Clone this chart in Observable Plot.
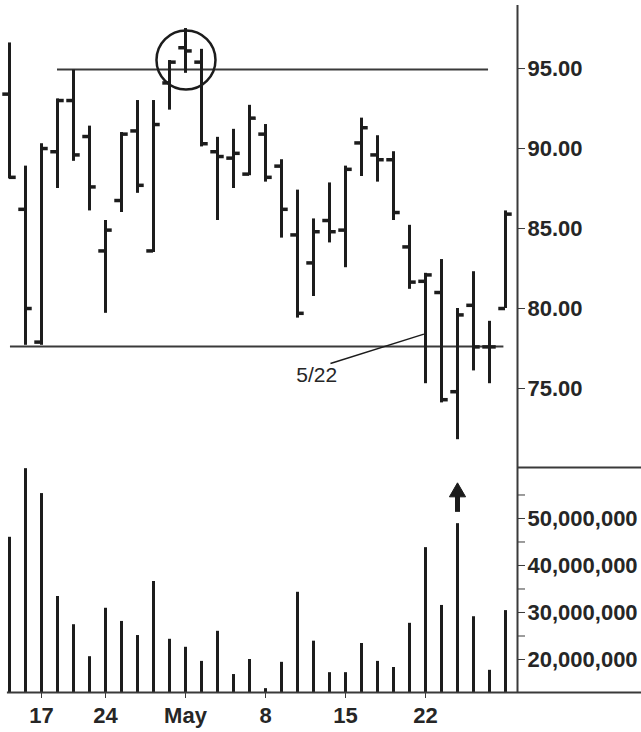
<!DOCTYPE html>
<html>
<head>
<meta charset="utf-8">
<script src="https://cdn.jsdelivr.net/npm/d3@7"></script>
<script src="https://cdn.jsdelivr.net/npm/@observablehq/plot@0.6"></script>
<style>
  html, body { margin: 0; padding: 0; background: #fff; }
  #chart svg { display: block; }
</style>
</head>
<body>
<div id="chart"></div>
<script>
// ---- Data ----
const dates = ["4/13","4/14","4/17","4/18","4/19","4/20","4/24","4/25","4/26","4/27","4/28",
  "5/1","5/2","5/3","5/4","5/5","5/8","5/9","5/10","5/11","5/12","5/15","5/16","5/17","5/18","5/19",
  "5/22","5/23","5/24","5/25","5/26","5/30"];
const open  = [93.4,86.2,77.9,89.8,93.0,90.75,83.6,86.75,91.1,83.6,94.1,96.3,95.4,89.8,89.4,88.4,90.9,88.9,84.6,82.85,85.5,84.9,90.35,89.6,89.3,83.85,81.7,81.0,74.8,80.2,77.6,80.0];
const high  = [96.6,88.9,90.3,93.1,94.9,91.4,85.5,91.0,93.0,93.0,95.5,97.5,96.2,90.7,91.2,92.7,91.5,89.3,87.4,85.6,87.85,88.9,91.9,90.8,89.8,85.2,82.2,83.06,80.0,82.3,79.2,86.1];
const low   = [88.1,77.7,77.7,87.5,89.2,86.1,79.7,86.0,87.2,83.5,92.4,94.7,90.1,85.5,87.5,88.3,87.9,84.4,79.4,80.75,84.1,82.55,88.25,87.9,85.5,81.2,75.3,74.1,71.8,76.1,75.3,80.0];
const close = [88.2,80.0,90.0,93.0,89.6,87.6,84.9,90.9,87.7,91.5,95.4,96.1,90.3,89.5,89.7,91.9,88.2,86.2,79.7,84.8,84.8,88.7,91.3,89.3,86.0,81.65,82.1,74.3,79.6,77.6,77.6,85.9];
const volumeM = [46.0,60.6,55.3,33.4,27.4,20.6,30.9,28.1,25.1,36.6,24.3,22.6,19.6,26.0,16.8,20.0,13.8,19.4,34.3,23.9,17.2,17.2,23.4,19.6,18.3,27.7,43.8,31.5,48.9,29.1,17.7,30.4];

const tickDates  = ["4/17","4/24","5/1","5/8","5/15","5/22"];
const tickLabels = ["17","24","May","8","15","22"];
const priceTicks = [75, 80, 85, 90, 95];
const volumeTicks = [20, 25, 30, 35, 40, 45, 50, 55];
const volumeLabelled = [20, 30, 40, 50];

// annotations (data units: x = trading-day index, y = price / volume in millions)
const resistance = [{from: 3, to: 29.94, price: 94.94}];
const support    = [{from: 0.06, to: 30.9, price: 77.62}];
const topCircle  = [{x: 11.03, price: 95.53}];
const leader     = [{x1: 20.06, p1: 76.56, x2: 25.9, p2: 78.4}];
const leaderText = [{x: 19.2, price: 75.8, text: "5/22"}];
const volArrow   = [{x: 28, shaftFrom: 51.3, shaftTo: 55.0, head: 55.6}];

// ---- Layout ----
const W = 641, plotRight = 124;
const xDomain = [-0.5625, 31.75];
const priceDomain = [70.125, 98.94];
const volDomain = [12.98, 61.06];
const ink = "#1c1c1c", lineInk = "#3a3a3a", textInk = "#262626";
const font = "'Liberation Sans', Arial, sans-serif";
const narrowFont = "'Liberation Sans Narrow', 'Arial Narrow', 'Liberation Sans', sans-serif";
const pxPerDay = (W - plotRight) / (xDomain[1] - xDomain[0]);
const xFar = xDomain[1] + plotRight / pxPerDay;

const bars = dates.map((d, i) => ({date: d, i, open: open[i], high: high[i], low: low[i], close: close[i]}));
const vols = dates.map((d, i) => ({date: d, i, v: volumeM[i]}));
const tickIdx = tickDates.map(d => dates.indexOf(d));
const labelOf = new Map(tickIdx.map((k, j) => [k, tickLabels[j]]));
const tickLen = 0.42;

const pricePlot = Plot.plot({
  width: W, height: 466,
  marginTop: 5, marginBottom: 0, marginLeft: 0, marginRight: plotRight,
  style: {fontFamily: font, background: "#fff", overflow: "visible"},
  x: {domain: xDomain, axis: null},
  y: {domain: priceDomain, axis: null},
  marks: [
    Plot.ruleY(resistance, {y: "price", x1: "from", x2: "to", stroke: lineInk, strokeWidth: 2}),
    Plot.ruleY(support, {y: "price", x1: "from", x2: "to", stroke: lineInk, strokeWidth: 2}),
    Plot.ruleX(bars, {x: "i", y1: "low", y2: "high", stroke: ink, strokeWidth: 3}),
    Plot.ruleY(bars, {y: "open", x1: d => d.i - tickLen, x2: "i", stroke: ink, strokeWidth: 3.5}),
    Plot.ruleY(bars, {y: "close", x1: "i", x2: d => d.i + tickLen, stroke: ink, strokeWidth: 3.5}),
    Plot.dot(topCircle, {x: "x", y: "price", r: 29.5, stroke: ink, strokeWidth: 2.5, fill: "none"}),
    Plot.link(leader, {x1: "x1", y1: "p1", x2: "x2", y2: "p2", stroke: ink, strokeWidth: 1.5}),
    Plot.text(leaderText, {x: "x", y: "price", text: "text", fontSize: 21, fill: textInk, fontFamily: narrowFont}),
    Plot.ruleX([xDomain[1]], {stroke: lineInk, strokeWidth: 2}),
    Plot.axisY({anchor: "right", ticks: priceTicks, tickFormat: d3.format(".2f"), tickSize: 7, tickPadding: 3,
      fontSize: 22, fontWeight: "bold", fill: textInk, stroke: lineInk, label: null})
  ]
});

const volumePlot = Plot.plot({
  width: W, height: 266,
  marginTop: 0, marginBottom: 40, marginLeft: 0, marginRight: plotRight,
  style: {fontFamily: font, background: "#fff", overflow: "visible"},
  x: {domain: xDomain, axis: null},
  y: {domain: volDomain, axis: null},
  marks: [
    Plot.ruleX(vols, {x: "i", y1: volDomain[0], y2: "v", stroke: ink, strokeWidth: 3}),
    Plot.ruleX(volArrow, {x: "x", y1: "shaftFrom", y2: "shaftTo", stroke: ink, strokeWidth: 5}),
    Plot.dot(volArrow, {x: "x", y: "head", symbol: "triangle", r: 6, fill: ink, stroke: ink, strokeWidth: 1}),
    Plot.ruleX([xDomain[1]], {stroke: lineInk, strokeWidth: 2}),
    Plot.ruleY([volDomain[1]], {x1: xDomain[1], x2: xFar, stroke: lineInk, strokeWidth: 2, dy: 1}),
    Plot.ruleY([volDomain[0]], {x1: -0.13, x2: xFar, stroke: lineInk, strokeWidth: 2}),
    Plot.axisY({anchor: "right", ticks: volumeTicks,
      tickFormat: d => volumeLabelled.includes(d) ? d3.format(",")(d * 1e6) : "",
      tickSize: 7, tickPadding: 3, fontSize: 22, fontWeight: "bold", fill: textInk, stroke: lineInk, label: null}),
    Plot.axisX({ticks: tickIdx, tickFormat: d => labelOf.get(d), tickSize: 6, tickPadding: 9,
      fontSize: 22, fontWeight: "bold", fill: textInk, stroke: lineInk, label: null})
  ]
});

const root = document.getElementById("chart");
root.append(pricePlot, volumePlot);
</script>
</body>
</html>
